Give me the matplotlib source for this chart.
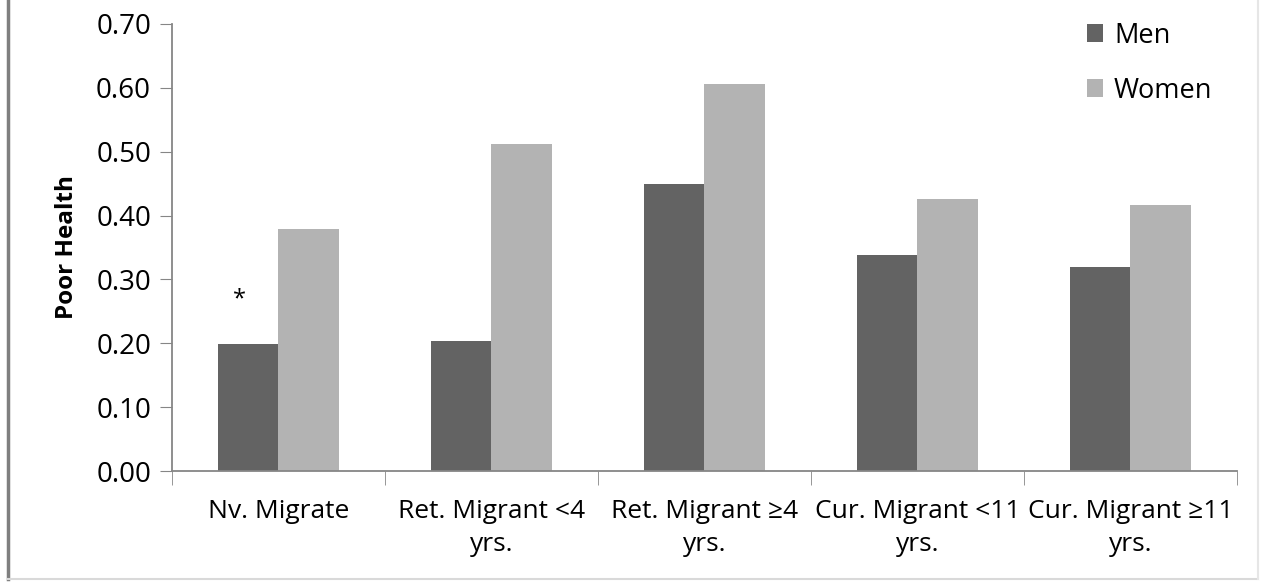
import numpy as np
import matplotlib.pyplot as plt
from matplotlib.lines import Line2D

categories = ['Nv. Migrate', 'Ret. Migrant <4\nyrs.', 'Ret. Migrant \u22654\nyrs.',
              'Cur. Migrant <11\nyrs.', 'Cur. Migrant \u226511\nyrs.']
men = [0.199, 0.204, 0.449, 0.338, 0.319]
women = [0.379, 0.512, 0.606, 0.426, 0.417]
yticks = [0.0, 0.1, 0.2, 0.3, 0.4, 0.5, 0.6, 0.7]

plt.rcParams['font.family'] = ['Open Sans', 'DejaVu Sans']

fig = plt.figure(figsize=(12.7, 5.82), dpi=100)
ax = fig.add_axes([0.1354, 0.1907, 0.8386, 0.7681])

x = np.arange(len(categories))
bw = 1 / 3.5
ax.bar(x - bw/2, men, bw, color='#636363', label='Men', zorder=2)
ax.bar(x + bw/2, women, bw, color='#b3b3b3', label='Women', zorder=2)

# significance mark
ax.text(x[0] - bw/2 - 0.04, men[0] + 0.07, '*', ha='center', va='center', fontsize=17)

ax.set_xlim(-0.5, len(categories) - 0.5)
ax.set_ylim(0, 0.70)
ax.set_yticks(yticks)
ax.set_yticklabels(['%.2f' % v for v in yticks])
ax.set_xticks(x)
ax.set_xticklabels(categories, fontsize=19, linespacing=1.45)
ax.set_xticks(np.arange(len(categories) + 1) - 0.5, minor=True)
ax.tick_params(axis='x', which='major', length=0, pad=20)
ax.tick_params(axis='x', which='minor', length=10, color='#868686', direction='out')
ax.tick_params(axis='y', labelsize=20, length=9, color='#868686', pad=6)

for s in ['top', 'right']:
    ax.spines[s].set_visible(False)
for s in ['left', 'bottom']:
    ax.spines[s].set_color('#868686')
    ax.spines[s].set_linewidth(1.3)

ax.set_ylabel('Poor Health', fontsize=17.5, fontweight='bold', labelpad=12)

ax.legend(loc='upper right', bbox_to_anchor=(1.0, 1.06), frameon=False, fontsize=19.5,
          handlelength=0.6, handleheight=0.6, labelspacing=1.0, handletextpad=0.4)

# chart frame
fig.add_artist(Line2D([8/1270, 8/1270], [3/582, 1], transform=fig.transFigure,
                      color='#7f7f7f', linewidth=2.5))
fig.add_artist(Line2D([8/1270, 1258/1270], [3/582, 3/582], transform=fig.transFigure,
                      color='#d9d9d9', linewidth=1.5))
fig.add_artist(Line2D([1258/1270, 1258/1270], [3/582, 1], transform=fig.transFigure,
                      color='#e6e6e6', linewidth=1.5))

fig.savefig('out.png', dpi=100)
